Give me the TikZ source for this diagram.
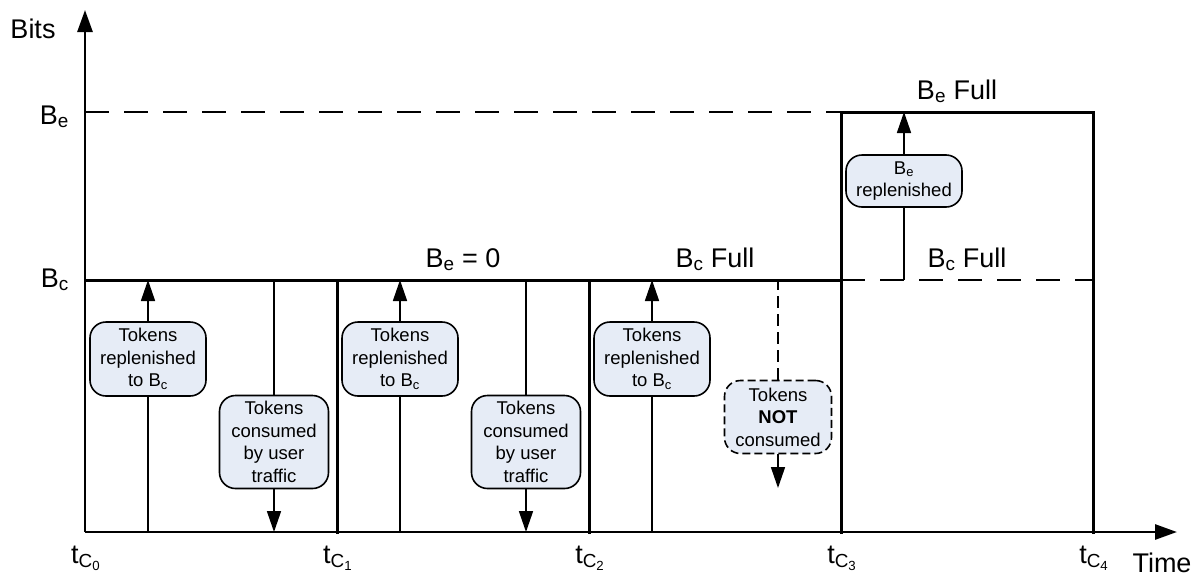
\documentclass[tikz,border=0pt]{standalone}
\usepackage{fontspec}
\setmainfont{Liberation Sans}
\usepackage{tikz}
\usetikzlibrary{calc}
\usetikzlibrary{arrows.meta}
\definecolor{boxFill}{RGB}{230,236,246}
\tikzset{
  tokenBox/.style={%
    draw, fill=boxFill, rounded corners=16pt, line width=1.6pt,
    align=center, inner sep=0pt,
    font=\fontsize{18.5}{22.5}\selectfont,
  },
  bigLabel/.style={%
    font=\fontsize{27}{32}\selectfont, inner sep=0pt,
  },
  axisLine/.style={line width=2.8pt, -{Triangle[length=22pt,width=15pt]}},
  boundLine/.style={line width=3pt, line cap=rect},
  levelLine/.style={line width=1.7pt, dash pattern=on 24pt off 15pt},
  flowLine/.style={line width=1.7pt},
  flowArrow/.style={line width=1.7pt, -{Triangle[length=21pt,width=14pt]}},
}
\newcommand{\tc}[1]{t\textsubscript{C\textsubscript{#1}}}

\begin{document}
\begin{tikzpicture}[x=1pt,y=-1pt]
                \useasboundingbox (0,0) rectangle (1203,579);
                % time marks: b = axis, c = B_c level, e = B_e level
                \coordinate (c0b) at (85,532);
                \coordinate (c0c) at (85,280);
                \coordinate (c0e) at (85,112);
                \coordinate (c1b) at (337,532);
                \coordinate (c1c) at (337,280);
                \coordinate (c2b) at (589,532);
                \coordinate (c2c) at (589,280);
                \coordinate (c3b) at (841,532);
                \coordinate (c3c) at (841,280);
                \coordinate (c3e) at (841,112);
                \coordinate (c4b) at (1093,532);
                \coordinate (c4c) at (1093,280);
                \coordinate (c4e) at (1093,112);
                \coordinate (yTip) at (85,10);
                \coordinate (xTip) at (1177,532);
                \coordinate (notEnd) at (778,488);

                % levels and bucket edges
                \draw[levelLine] (c0e) -- (c3e);
                \draw[levelLine] (c3c) -- (c4c);
                \draw[boundLine] (c0c) -- (c3c);
                \draw[boundLine] (c1b) -- (c1c);
                \draw[boundLine] (c2b) -- (c2c);
                \draw[boundLine] (c3b) -- (c3e) -- (c4e) -- (c4b);
                \draw[axisLine] (c0b) -- (yTip);
                \draw[axisLine] (c0b) -- (xTip);

                % boxes
                \node[tokenBox, minimum width=116pt, minimum height=74pt]
                  (rep0) at (148,359) {Tokens\\replenished\\to B\textsubscript{c}};
                \node[tokenBox, minimum width=109pt, minimum height=93pt]
                  (con0) at (274,442) {Tokens\\consumed\\by user\\traffic};
                \node[tokenBox, minimum width=116pt, minimum height=74pt]
                  (rep1) at (400,359) {Tokens\\replenished\\to B\textsubscript{c}};
                \node[tokenBox, minimum width=109pt, minimum height=93pt]
                  (con1) at (526,442) {Tokens\\consumed\\by user\\traffic};
                \node[tokenBox, minimum width=116pt, minimum height=74pt]
                  (rep2) at (652,359) {Tokens\\replenished\\to B\textsubscript{c}};
                \node[tokenBox, dash pattern=on 8pt off 4pt, minimum width=107pt, minimum height=73pt]
                  (notc) at (778,417) {Tokens\\\textbf{NOT}\\consumed};
                \node[tokenBox, minimum width=116pt, minimum height=52pt]
                  (beRep) at (904,181) {B\textsubscript{e}\\replenished};

                % flows
                \draw[flowLine] (rep0) -- (rep0 |- c0b);
                \draw[flowArrow] (rep0) -- (rep0 |- c0c);
                \draw[flowLine] (con0) -- (con0 |- c0c);
                \draw[flowArrow] (con0) -- (con0 |- c0b);
                \draw[flowLine] (rep1) -- (rep1 |- c0b);
                \draw[flowArrow] (rep1) -- (rep1 |- c0c);
                \draw[flowLine] (con1) -- (con1 |- c0c);
                \draw[flowArrow] (con1) -- (con1 |- c0b);
                \draw[flowLine] (rep2) -- (rep2 |- c0b);
                \draw[flowArrow] (rep2) -- (rep2 |- c0c);
                \draw[flowLine, dash pattern=on 12pt off 6pt] (notc) -- (notc |- c0c);
                \draw[flowArrow] (notc) -- (notEnd);
                \draw[flowLine] (beRep) -- (beRep |- c3c);
                \draw[flowArrow] (beRep) -- (beRep |- c3e);

                % labels
                \node[bigLabel] (bits) at (33,29) {Bits};
                \node[bigLabel, anchor=base east] (lblBe) at (69,124) {B\textsubscript{e}};
                \node[bigLabel, anchor=base east] (lblBc) at (69,287) {B\textsubscript{c}};
                \node[bigLabel, anchor=base] (beZero) at (463,267) {B\textsubscript{e} = 0};
                \node[bigLabel, anchor=base] (bcFullA) at (715,267) {B\textsubscript{c} Full};
                \node[bigLabel, anchor=base] (beFull) at (957,99) {B\textsubscript{e} Full};
                \node[bigLabel, anchor=base] (bcFullB) at (967,267) {B\textsubscript{c} Full};
                \node[bigLabel, anchor=base] (time) at (1162,572) {Time};
                \node[bigLabel, anchor=base] (t0) at (86,563) {\tc{0}};
                \node[bigLabel, anchor=base] (t1) at (338,563) {\tc{1}};
                \node[bigLabel, anchor=base] (t2) at (590,563) {\tc{2}};
                \node[bigLabel, anchor=base] (t3) at (842,563) {\tc{3}};
                \node[bigLabel, anchor=base] (t4) at (1094,563) {\tc{4}};
              \end{tikzpicture}
\end{document}
